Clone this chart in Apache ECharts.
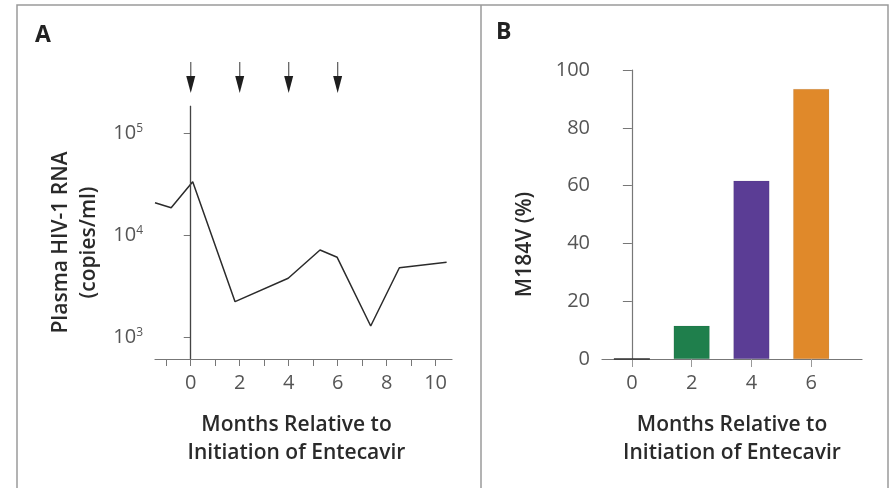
<!DOCTYPE html>
<html>
<head>
<meta charset="utf-8">
<script src="https://cdn.jsdelivr.net/npm/echarts@6/dist/echarts.min.js"></script>
<style>
  html, body { margin: 0; padding: 0; background: #fff; }
  #main { width: 892px; height: 488px; }
</style>
</head>
<body>
<div id="main"></div>
<script>
// panel A: plasma HIV-1 RNA over time (log scale)
var rnaMonths = [-1.46, -0.8, 0.08, 1.81, 3.98, 5.28, 5.98, 7.35, 8.52, 10.45];
var rnaCopies = [20700, 18500, 33300, 2220, 3760, 7130, 6040, 1280, 4770, 5400];
var arrowMonths = [0, 2, 4, 6];
var monthTicksA = [-1, 0, 1, 2, 3, 4, 5, 6, 7, 8, 9, 10];
var monthLabelsA = [0, 2, 4, 6, 8, 10];
var logTicks = [1000, 10000, 100000];

// panel B: M184V percentage
var m184Months = [0, 2, 4, 6];
var m184Pct = [0, 11.5, 61.7, 93.4];
var barColors = ['#333333', '#1f7f4c', '#5b3d95', '#e0892a'];

var font = '"Open Sans", "DejaVu Sans", sans-serif';
var axisGray = '#777';
var labelGray = '#555';
var nameColor = '#2a2a2a';

var lineData = rnaMonths.map(function (m, i) { return [m, rnaCopies[i]]; });
var barData = m184Months.map(function (m, i) {
  return {
    value: [m, m184Pct[i]],
    itemStyle: {
      color: barColors[i],
      borderColor: i === 0 ? '#333' : 'rgba(0,0,0,0.15)',
      borderWidth: i === 0 ? 1.5 : 0.5
    }
  };
});
var arrowData = arrowMonths.map(function (m) { return [m, 0]; });

var option = {
  animation: false,
  backgroundColor: '#fff',
  textStyle: { fontFamily: font },
  graphic: [
    { type: 'rect', shape: { x: 17, y: 5, width: 871, height: 500 },
      style: { fill: 'none', stroke: '#9a9a9a', lineWidth: 1.5 }, silent: true },
    { type: 'line', shape: { x1: 481, y1: 5, x2: 481, y2: 488 },
      style: { stroke: '#9a9a9a', lineWidth: 1.5 }, silent: true },
    { type: 'text', left: 35, top: 24,
      style: { text: 'A', font: 'bold 23px ' + font, fill: '#222' } },
    { type: 'text', left: 496, top: 21,
      style: { text: 'B', font: 'bold 23px ' + font, fill: '#222' } }
  ],
  grid: [
    { left: 155, top: 106, width: 297, height: 253 },
    { left: 602, top: 70, width: 260, height: 289 },
    { left: 155, top: 62, width: 297, height: 31 }
  ],
  xAxis: [
    {
      gridIndex: 0, type: 'value', min: -1.46, max: 10.67,
      splitLine: { show: false },
      axisLine: { lineStyle: { color: axisGray, width: 1.2 } },
      axisTick: { customValues: monthTicksA, length: 7, lineStyle: { color: axisGray } },
      axisLabel: { customValues: monthLabelsA, color: labelGray, fontSize: 20, margin: 14, fontFamily: font },
      name: 'Months Relative to\nInitiation of Entecavir',
      nameLocation: 'middle', nameGap: 52,
      nameTextStyle: { color: nameColor, fontSize: 21, fontWeight: 600, lineHeight: 28,
        padding: [0, 14, 0, 0], fontFamily: font }
    },
    {
      gridIndex: 1, type: 'value', min: -1, max: 7.7,
      splitLine: { show: false },
      axisLine: { lineStyle: { color: axisGray, width: 1.2 } },
      axisTick: { customValues: m184Months, length: 8, lineStyle: { color: '#999' } },
      axisLabel: { customValues: m184Months, color: labelGray, fontSize: 20, margin: 14, fontFamily: font },
      name: 'Months Relative to\nInitiation of Entecavir',
      nameLocation: 'middle', nameGap: 52,
      nameTextStyle: { color: nameColor, fontSize: 21, fontWeight: 600, lineHeight: 28,
        padding: [0, 0, 0, 0], fontFamily: font }
    },
    {
      gridIndex: 2, type: 'value', min: -1.46, max: 10.67, show: false
    }
  ],
  yAxis: [
    {
      gridIndex: 0, type: 'log', logBase: 10, min: 608, max: 184000,
      splitLine: { show: false },
      axisLine: { show: true, lineStyle: { color: axisGray, width: 1.2 } },
      axisTick: { show: true, customValues: logTicks, length: 7, lineStyle: { color: axisGray } },
      axisLabel: {
        customValues: logTicks, margin: 12, color: labelGray, fontFamily: font,
        formatter: function (v) {
          return '{b|10}{s|' + Math.round(Math.log10(v)) + '}';
        },
        rich: {
          b: { fontSize: 20, color: labelGray, fontFamily: font },
          s: { fontSize: 12, color: labelGray, fontFamily: font, verticalAlign: 'top', padding: [0, 0, 8, 0] }
        }
      },
      name: 'Plasma HIV-1 RNA\n(copies/ml)',
      nameLocation: 'middle', nameGap: 52, nameRotate: 90,
      nameTextStyle: { color: nameColor, fontSize: 21, fontWeight: 600, lineHeight: 28,
        padding: [0, 20, 0, 0], fontFamily: font }
    },
    {
      gridIndex: 1, type: 'value', min: 0, max: 100, interval: 20,
      splitLine: { show: false },
      axisLine: { show: true, lineStyle: { color: axisGray, width: 1.2 } },
      axisTick: { show: true, length: 9, lineStyle: { color: axisGray } },
      axisLabel: { color: labelGray, fontSize: 20, margin: 12, fontFamily: font },
      name: 'M184V (%)',
      nameLocation: 'middle', nameGap: 66, nameRotate: 90,
      nameTextStyle: { color: nameColor, fontSize: 21, fontWeight: 600,
        padding: [0, 60, 0, 0], fontFamily: font }
    },
    {
      gridIndex: 2, type: 'value', min: 0, max: 1, show: false
    }
  ],
  series: [
    {
      type: 'line', xAxisIndex: 0, yAxisIndex: 0,
      data: lineData, symbol: 'none',
      lineStyle: { color: '#2b2b2b', width: 1.5 },
      markLine: {
        silent: true, symbol: 'none', label: { show: false },
        lineStyle: { color: '#444', width: 1.2, type: 'solid' },
        data: [{ xAxis: 0 }]
      }
    },
    {
      type: 'bar', xAxisIndex: 1, yAxisIndex: 1,
      data: barData, barWidth: 36
    },
    {
      type: 'custom', xAxisIndex: 2, yAxisIndex: 2,
      data: arrowData,
      renderItem: function (params, api) {
        var top = api.coord([api.value(0), 1]);
        var bot = api.coord([api.value(0), 0]);
        var x = top[0];
        var headTop = top[1] + 0.45 * (bot[1] - top[1]);
        return {
          type: 'group',
          children: [
            { type: 'line', shape: { x1: x, y1: top[1], x2: x, y2: headTop + 2 },
              style: { stroke: '#666', lineWidth: 1.3 } },
            { type: 'polygon', shape: { points: [[x - 4.5, headTop], [x + 4.5, headTop], [x, bot[1]]] },
              style: { fill: '#1e1e1e' } }
          ]
        };
      }
    }
  ]
};

var myChart = echarts.init(document.getElementById('main'));
myChart.setOption(option);
</script>
</body>
</html>
